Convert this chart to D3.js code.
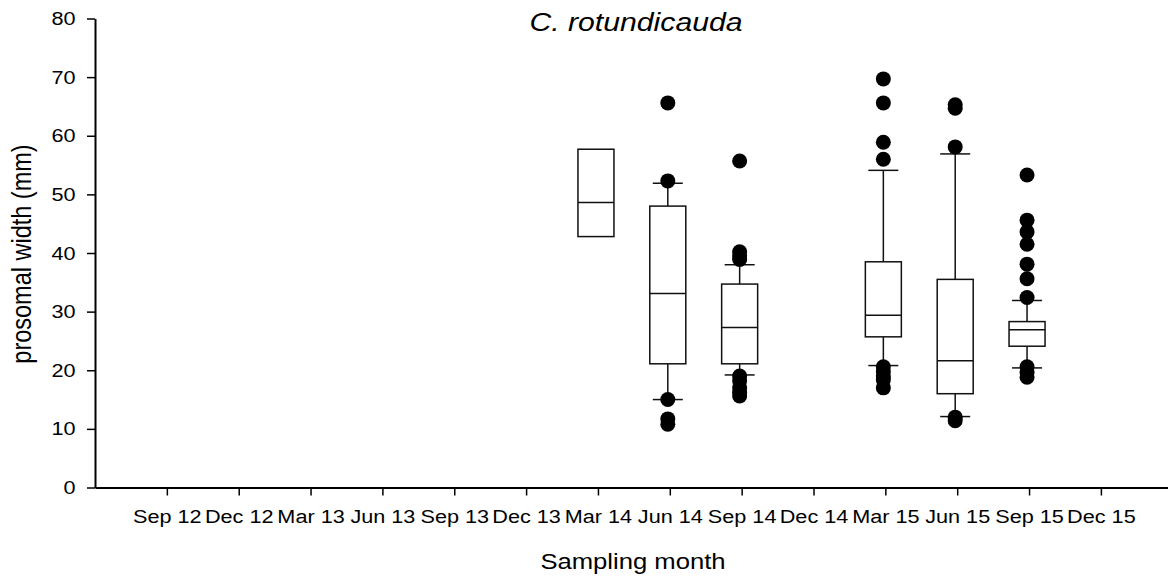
<!DOCTYPE html>
<html>
<head>
<meta charset="utf-8">
<script src="https://cdn.jsdelivr.net/npm/d3@7"></script>
<style>
  body { margin: 0; background: #fff; }
  svg text { font-family: "Liberation Sans", Arial, sans-serif; fill: #000; }
</style>
</head>
<body>
<svg id="chart" width="1168" height="578"></svg>
<script>
// Sampling months on the x axis (index 0 = Jun 12, the axis origin)
const monthLabels = ["Sep 12", "Dec 12", "Mar 13", "Jun 13", "Sep 13", "Dec 13", "Mar 14",
    "Jun 14", "Sep 14", "Dec 14", "Mar 15", "Jun 15", "Sep 15", "Dec 15"];
const yTicks = [0, 10, 20, 30, 40, 50, 60, 70, 80];

// Box plot statistics per sampled month
const boxMonths = ["Mar 14", "Jun 14", "Sep 14", "Mar 15", "Jun 15", "Sep 15"];
const q1 = [42.8, 21.1, 21.1, 25.7, 16.0, 24.1];
const medians = [48.6, 33.1, 27.3, 29.4, 21.6, 26.9];
const q3 = [57.7, 48.0, 34.7, 38.5, 35.5, 28.3];
const whiskerLow = [null, 15.0, 19.2, 20.8, 12.1, 20.4];
const whiskerHigh = [null, 51.9, 38.0, 54.1, 56.9, 31.9];
const outliers = [
    [],
    [65.6, 52.3, 15.0, 11.7, 10.8],
    [55.7, 40.2, 39.5, 38.9, 19.0, 18.2, 17.0, 16.2, 15.6],
    [69.7, 65.6, 58.9, 56.0, 20.6, 19.8, 19.0, 18.4, 17.0],
    [65.3, 64.7, 58.1, 12.0, 11.4],
    [53.3, 45.6, 43.6, 41.5, 38.1, 35.6, 32.4, 20.6, 19.6, 18.8]
];

const svg = d3.select("#chart");
const x0 = 95, step = 71.85;
const stretch = 1.14; // text in the original is a little wider than plain Arial

const x = d3.scaleLinear().domain([0, 15]).range([x0, x0 + 15 * step]);
const y = d3.scaleLinear().domain([0, 80]).range([487.5, 18.5]);

const monthIndex = m => monthLabels.indexOf(m) + 1;

// axes
const xAxis = svg.append("g")
    .attr("transform", `translate(0,${y(0)})`)
    .call(d3.axisBottom(x)
        .tickValues(d3.range(1, 15))
        .tickFormat(i => monthLabels[i - 1])
        .tickSize(8).tickPadding(14).tickSizeOuter(0));
xAxis.selectAll("text").style("font-size", "19px")
    .attr("transform", `scale(${stretch},1)`);

const yAxis = svg.append("g")
    .attr("transform", `translate(${x0},0)`)
    .call(d3.axisLeft(y).tickValues(yTicks).tickSize(8).tickPadding(9).tickSizeOuter(0));
yAxis.selectAll("text").style("font-size", "19px")
    .attr("transform", `scale(${stretch},1)`);

svg.selectAll(".domain").attr("stroke", "#000").attr("stroke-width", 2);
svg.selectAll(".tick line").attr("stroke", "#000").attr("stroke-width", 1.5);

// boxes
const boxW = 36, capW = 30, r = 7.5;
const data = boxMonths.map((m, i) => ({
    cx: x(monthIndex(m)) - 2, q1: q1[i], med: medians[i], q3: q3[i],
    lo: whiskerLow[i], hi: whiskerHigh[i], out: outliers[i]
}));

const g = svg.append("g").attr("stroke", "#111").attr("stroke-width", 1.5).attr("fill", "none");

data.forEach(d => {
    const b = g.append("g");
    if (d.hi != null) {
        b.append("line").attr("x1", d.cx).attr("x2", d.cx).attr("y1", y(d.q3)).attr("y2", y(d.hi));
        b.append("line").attr("x1", d.cx - capW / 2).attr("x2", d.cx + capW / 2).attr("y1", y(d.hi)).attr("y2", y(d.hi));
        b.append("line").attr("x1", d.cx).attr("x2", d.cx).attr("y1", y(d.q1)).attr("y2", y(d.lo));
        b.append("line").attr("x1", d.cx - capW / 2).attr("x2", d.cx + capW / 2).attr("y1", y(d.lo)).attr("y2", y(d.lo));
    }
    b.append("rect")
        .attr("x", d.cx - boxW / 2).attr("width", boxW)
        .attr("y", y(d.q3)).attr("height", y(d.q1) - y(d.q3))
        .attr("fill", "#fff");
    b.append("line").attr("x1", d.cx - boxW / 2).attr("x2", d.cx + boxW / 2)
        .attr("y1", y(d.med)).attr("y2", y(d.med));
    b.selectAll("circle").data(d.out).join("circle")
        .attr("cx", d.cx).attr("cy", v => y(v)).attr("r", r)
        .attr("fill", "#000").attr("stroke", "none");
});

// titles
svg.append("text")
    .attr("transform", `translate(636,31) scale(${stretch},1)`)
    .attr("text-anchor", "middle")
    .style("font-size", "26.5px").style("font-style", "italic")
    .text("C. rotundicauda");

svg.append("text")
    .attr("transform", `translate(633,569) scale(${stretch},1)`)
    .attr("text-anchor", "middle")
    .style("font-size", "22.5px")
    .text("Sampling month");

svg.append("text")
    .attr("transform", `translate(31,254) scale(${stretch},1) rotate(-90)`)
    .attr("text-anchor", "middle")
    .style("font-size", "23.5px")
    .text("prosomal width (mm)");
</script>
</body>
</html>
